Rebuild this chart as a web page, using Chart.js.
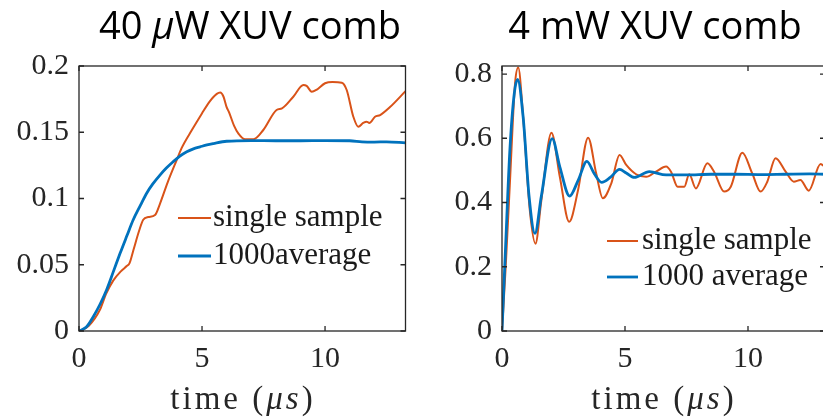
<!DOCTYPE html>
<html><head><meta charset="utf-8">
<script src="https://cdn.jsdelivr.net/npm/chart.js@4.4.0/dist/chart.umd.min.js"></script>
<style>
html,body{margin:0;padding:0;background:#fff;overflow:hidden;width:823px;height:419px;}
#wrap{position:relative;width:823px;height:419px;overflow:hidden;}
canvas{position:absolute;top:0;}
.ttl{position:absolute;font-family:"Open Sans";font-size:38px;line-height:38px;color:#000;text-align:center;white-space:nowrap;}
.xl{position:absolute;font-family:"Liberation Serif","Times New Roman",Tinos,"DejaVu Serif",serif;font-size:33px;line-height:33px;color:#262626;text-align:center;white-space:nowrap;letter-spacing:3px;}
</style></head>
<body><div id="wrap">
<canvas id="c1" width="420" height="419" style="left:0"></canvas>
<canvas id="c2" width="430" height="419" style="left:420px"></canvas>
<div class="ttl" style="left:50px;top:5px;width:400px">40 <i>μ</i>W XUV comb</div>
<div class="ttl" style="left:455px;top:5px;width:400px">4 mW XUV comb</div>
<div class="xl" style="left:43px;top:382px;width:400px">time (<i>μs</i>)</div>
<div class="xl" style="left:464px;top:382px;width:400px">time (<i>μs</i>)</div>
</div>
<script>
// ---- data: left panel (40 uW) ----
const timeLeftSingle = [0,0.4,0.85,1.1,1.39,1.7,1.94,2.05,2.21,2.45,2.61,2.82,3.09,3.29,3.6,3.97,4.17,4.6,4.99,5.3,5.6,5.74,5.87,6.0,6.1,6.3,6.48,6.75,7.09,7.49,8.03,8.25,8.71,9.12,9.25,9.46,9.65,10.0,10.3,10.68,10.88,11.15,11.35,11.55,11.69,11.8,12.03,12.24,12.64,13.27];
const valueLeftSingle = [0,0.004,0.016,0.028,0.038,0.045,0.049,0.051,0.061,0.076,0.084,0.086,0.0875,0.096,0.112,0.129,0.138,0.152,0.164,0.173,0.179,0.180,0.177,0.169,0.165,0.155,0.149,0.1447,0.1447,0.1517,0.1668,0.168,0.1768,0.1857,0.185,0.1806,0.182,0.187,0.188,0.1874,0.1819,0.1617,0.1542,0.157,0.158,0.157,0.1617,0.163,0.169,0.181];
const timeLeftAvg = [0,0.3,0.58,0.85,1.12,1.4,1.67,1.95,2.2,2.5,2.75,3.0,3.29,3.55,3.83,4.1,4.38,4.65,4.92,5.2,5.46,6.0,7,8,9,10,11,11.5,12,12.5,13.27];
const valueLeftAvg = [0,0.003,0.0108,0.02,0.031,0.045,0.0586,0.072,0.0838,0.095,0.104,0.111,0.1177,0.123,0.1278,0.132,0.1353,0.1375,0.139,0.1405,0.1415,0.1432,0.1437,0.1436,0.1436,0.1437,0.1436,0.1428,0.1426,0.1428,0.142];
// ---- data: right panel (4 mW) ----
const timeRightSingle = [0,0.15,0.32,0.53,0.66,0.86,1.13,1.36,1.6,2.01,2.35,2.73,3.09,3.5,3.83,4.1,4.44,4.78,5.05,5.45,5.86,6.26,6.67,6.87,7.14,7.41,7.61,7.88,8.35,8.62,9.03,9.3,9.77,10.17,10.51,10.78,11.12,11.53,11.86,12.13,12.47,12.95,13.13];
const valueRightSingle = [0,0.2,0.459,0.77,0.82,0.666,0.376,0.272,0.407,0.617,0.48,0.34,0.438,0.602,0.49,0.413,0.459,0.548,0.517,0.488,0.48,0.496,0.512,0.496,0.449,0.449,0.488,0.444,0.522,0.496,0.434,0.449,0.555,0.491,0.434,0.464,0.538,0.496,0.465,0.47,0.437,0.52,0.51];
const timeRightAvg = [0,0.15,0.32,0.5,0.635,0.86,1.1,1.34,1.6,2.04,2.35,2.75,3.1,3.45,3.75,4.05,4.4,4.78,5.05,5.38,5.99,6.67,7.5,8.5,9.5,10.5,11.5,12.5,13.13];
const valueRightAvg = [0,0.27,0.563,0.74,0.783,0.666,0.42,0.304,0.42,0.599,0.511,0.42,0.47,0.528,0.49,0.463,0.478,0.503,0.492,0.478,0.496,0.486,0.486,0.488,0.488,0.487,0.488,0.489,0.488];
// ---- ticks & labels ----
const xTicks = [0,5,10];
const yTicksLeft = [0,0.05,0.1,0.15,0.2];
const yTicksRight = [0,0.2,0.4,0.6,0.8];
const seriesLabelsLeft = ['single sample','1000average'];
const seriesLabelsRight = ['single sample','1000 average'];

const ORANGE = '#D95319', BLUE = '#0072BD', AXIS = '#262626';
const SERIF = '"Liberation Serif", "Times New Roman", Tinos, "DejaVu Serif", serif';
const zip = (ts, vs) => ts.map((t,i)=>({x:t, y:vs[i]}));

const matBox = {
  id: 'matBox',
  afterDatasetsDraw(chart, args, opts) {
    const {ctx, chartArea:a, scales:{x, y}} = chart;
    ctx.save();
    ctx.strokeStyle = AXIS; ctx.lineWidth = 1.3;
    ctx.strokeRect(a.left, a.top, a.right - a.left, a.bottom - a.top);
    const L = 5;
    ctx.beginPath();
    x.ticks.forEach(t => { const p = x.getPixelForValue(t.value);
      ctx.moveTo(p, a.bottom); ctx.lineTo(p, a.bottom - L);
      ctx.moveTo(p, a.top); ctx.lineTo(p, a.top + L); });
    y.ticks.forEach(t => { const p = y.getPixelForValue(t.value);
      ctx.moveTo(a.left, p); ctx.lineTo(a.left + L, p);
      ctx.moveTo(a.right, p); ctx.lineTo(a.right - L, p); });
    ctx.stroke();
    // inset legend
    ctx.font = '31px ' + SERIF;
    ctx.textBaseline = 'alphabetic';
    ctx.textAlign = 'left';
    chart.data.datasets.forEach((ds, i) => {
      const yy = a.top + opts.legendY + i * opts.rowGap;
      const x0 = a.left + opts.legendX;
      ctx.strokeStyle = ds.borderColor; ctx.lineWidth = ds.borderWidth;
      ctx.beginPath(); ctx.moveTo(x0, yy); ctx.lineTo(x0 + opts.lineLen, yy); ctx.stroke();
      ctx.fillStyle = '#1a1a1a';
      ctx.fillText(ds.label, x0 + opts.textGap, yy + 8);
    });
    ctx.restore();
  }
};

function makeChart(id, single, avg, labels, xmax, ymax, yTicks, yWidth, padRight, legendOpts) {
  const tickFont = {family: SERIF, size: 30};
  return new Chart(document.getElementById(id), {
    type: 'line',
    data: { datasets: [
      {label: labels[0], data: single, borderColor: ORANGE, borderWidth: 2, order: 1},
      {label: labels[1], data: avg, borderColor: BLUE, borderWidth: 2.8, order: 0}
    ]},
    options: {
      responsive: false, animation: false,
      devicePixelRatio: 1,
      layout: {padding: {top: 66, right: padRight, bottom: 0, left: 0}},
      elements: {point: {radius: 0}, line: {cubicInterpolationMode: 'monotone', fill: false}},
      plugins: {legend: {display: false}, title: {display: false}, tooltip: {enabled: false},
        matBox: legendOpts},
      scales: {
        x: {type: 'linear', min: 0, max: xmax,
          afterBuildTicks: s => { s.ticks = xTicks.map(v => ({value: v})); },
          afterFit: s => { s.height = 88; },
          ticks: {font: tickFont, color: AXIS, padding: 10, maxRotation: 0, autoSkip: false},
          grid: {display: false, drawTicks: false}, border: {display: false}},
        y: {type: 'linear', min: 0, max: ymax,
          afterBuildTicks: s => { s.ticks = yTicks.map(v => ({value: v})); },
          afterFit: s => { s.width = yWidth; },
          ticks: {font: tickFont, color: AXIS, padding: 10, autoSkip: false,
            callback: v => String(+v.toFixed(2))},
          grid: {display: false, drawTicks: false}, border: {display: false}}
      }
    },
    plugins: [matBox]
  });
}

makeChart('c1', zip(timeLeftSingle, valueLeftSingle), zip(timeLeftAvg, valueLeftAvg),
  seriesLabelsLeft, 13.27, 0.2, yTicksLeft, 79, 14.5,
  {legendX: 99, legendY: 152, rowGap: 38, lineLen: 33, textGap: 35});
makeChart('c2', zip(timeRightSingle, valueRightSingle), zip(timeRightAvg, valueRightAvg),
  seriesLabelsRight, 13.13, 0.825, yTicksRight, 82, 25,
  {legendX: 105, legendY: 175, rowGap: 36, lineLen: 31, textGap: 35});
</script>
</body></html>
